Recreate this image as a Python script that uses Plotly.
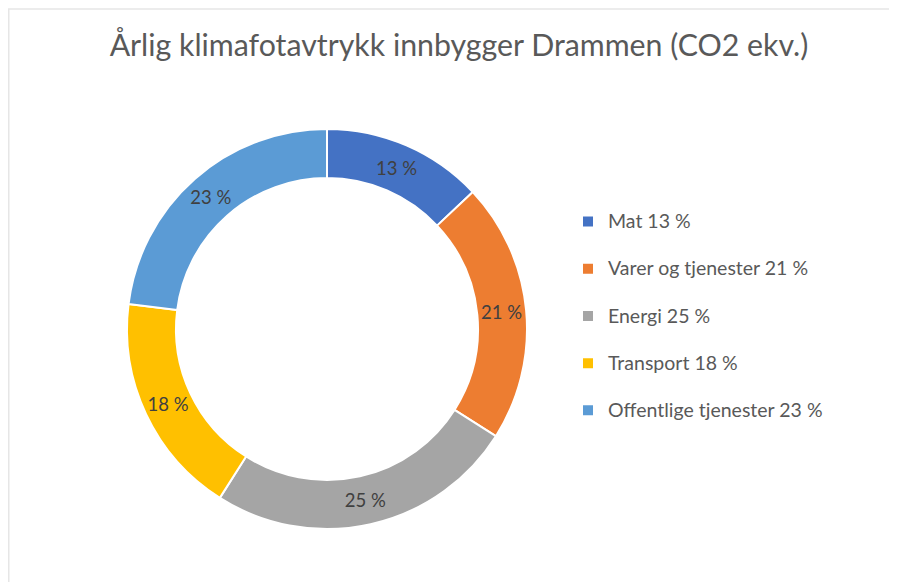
import plotly.graph_objects as go

categories = ["Mat", "Varer og tjenester", "Energi", "Transport", "Offentlige tjenester"]
values = [13, 21, 25, 18, 23]
colors = ["#4472C4", "#ED7D31", "#A5A5A5", "#FFC000", "#5B9BD5"]
title_text = "Årlig klimafotavtrykk innbygger Drammen (CO2 ekv.)"

W, H = 897, 582
FONT = "Lato"

legend_labels = [
    f"<span style='font-size:19.5px'>{c} {v} %</span><br> " for c, v in zip(categories, values)
]

fig = go.Figure(
    go.Pie(
        labels=legend_labels,
        values=values,
        text=[f"{v} %" for v in values],
        textinfo="text",
        textposition="inside",
        insidetextorientation="horizontal",
        textfont=dict(family=FONT, size=18.5, color="#404040"),
        hole=0.755,
        sort=False,
        direction="clockwise",
        rotation=0,
        marker=dict(colors=colors, line=dict(color="white", width=2)),
        domain=dict(x=[119 / W, 519 / W], y=[1 - 521 / H, 1 - 121 / H]),
        hoverinfo="skip",
    )
)

fig.update_layout(
    width=W,
    height=H,
    margin=dict(l=0, r=0, t=0, b=0),
    paper_bgcolor="white",
    font=dict(family=FONT, color="#595959"),
    title=dict(
        text=title_text,
        x=451 / W,
        xanchor="center",
        y=1 - 37 / H,
        yanchor="middle",
        font=dict(family=FONT, size=30.3, color="#595959"),
    ),
    showlegend=True,
    legend=dict(
        x=560 / W,
        xanchor="left",
        y=1 - 196 / H,
        yanchor="top",
        valign="top",
        font=dict(family=FONT, size=17, color="#595959"),
        bgcolor="rgba(0,0,0,0)",
    ),
    shapes=[
        dict(type="line", xref="paper", yref="paper", x0=0.75 / W, x1=0.75 / W, y0=0, y1=1 - 1 / H,
             line=dict(color="#E6E6E6", width=1.5)),
        dict(type="line", xref="paper", yref="paper", x0=0, x1=887 / W, y0=1 - 1 / H, y1=1 - 1 / H,
             line=dict(color="#E6E6E6", width=1.5)),
        dict(type="line", xref="paper", yref="paper", x0=887 / W, x1=887 / W, y0=0, y1=1 - 1 / H,
             line=dict(color="#EFEFEF", width=1)),
    ],
)

fig.write_html("out.html")
